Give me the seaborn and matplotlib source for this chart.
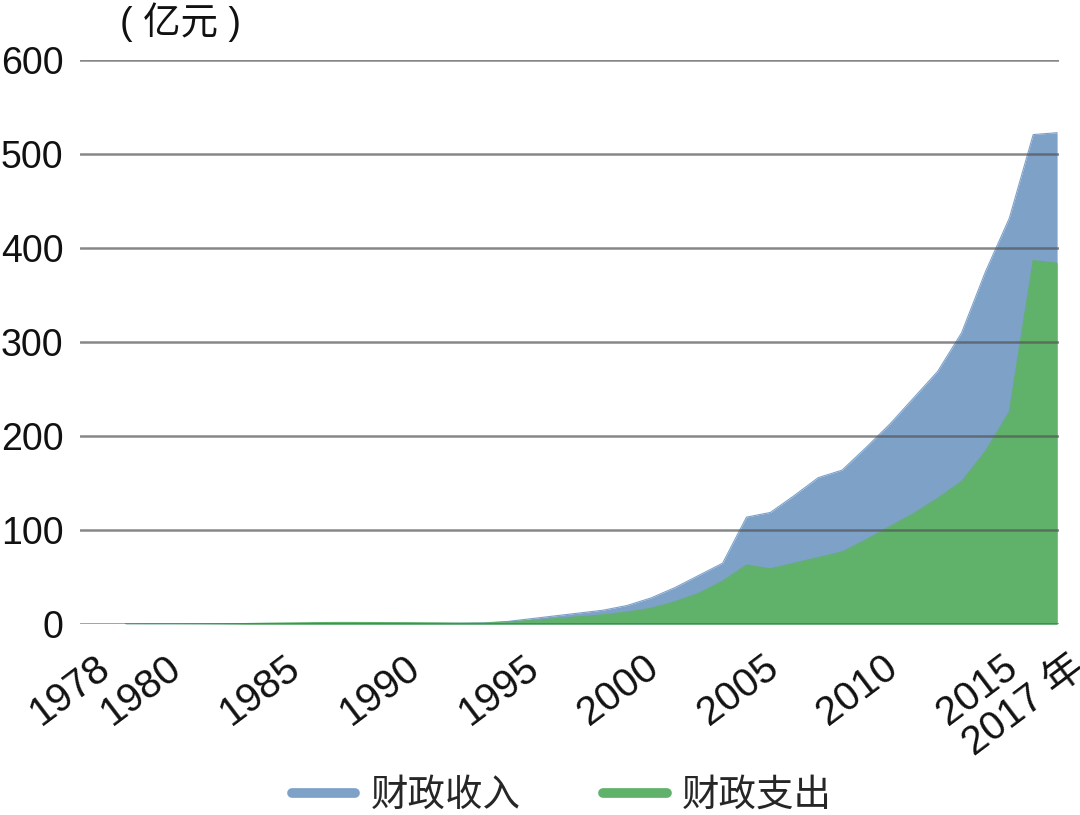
import matplotlib
matplotlib.use("Agg")
import matplotlib.pyplot as plt
import matplotlib.transforms as mtransforms
from matplotlib.lines import Line2D
import pandas as pd
import seaborn as sns

# data (亿元)
years = list(range(1978, 2018))
revenue = [0.3, 0.3, 0.3, 0.3, 0.4, 0.4, 0.5, 0.6, 0.7, 0.8,
           0.8, 0.9, 0.9, 1.0, 1.1, 1.5, 3, 6, 9, 12,
           15, 20, 28, 39, 52, 65, 114, 119, 137, 156,
           164, 188, 213, 241, 269, 310, 375, 432, 521, 523]
expenditure = [0.2, 0.3, 0.3, 0.4, 0.5, 0.8, 1.2, 1.5, 1.8, 2.0,
               1.9, 1.8, 1.7, 1.5, 1.2, 1.3, 2.5, 4, 6, 8,
               10, 13, 17, 24, 33, 46, 63, 59, 65, 71,
               77, 90, 104, 118, 134, 152, 184, 226, 387, 384]
tick_years = [1978, 1980, 1985, 1990, 1995, 2000, 2005, 2010, 2015, 2017]
tick_labels = ["1978", "1980", "1985", "1990", "1995", "2000", "2005",
               "2010", "2015", "2017 年"]
series_names = ["财政收入", "财政支出"]

blue = "#7ea1c8"
green = "#60b16a"

sns.set_style("white")
plt.rcParams["font.family"] = ["Liberation Sans", "Noto Sans CJK SC"]

df = pd.DataFrame({"year": years, "revenue": revenue, "expenditure": expenditure})

fig = plt.figure(figsize=(10.8, 8.15), dpi=100)
ax = fig.add_axes([0.074, 0.234, 0.907, 0.692])

# areas
ax.fill_between(df["year"], 0, df["revenue"], color=blue, lw=0, zorder=1)
ax.fill_between(df["year"], 0, df["expenditure"], color=green, lw=0, zorder=2)
sns.lineplot(data=df, x="year", y="revenue", ax=ax, color=blue, lw=0.8, zorder=1)
sns.lineplot(data=df, x="year", y="expenditure", ax=ax, color=green, lw=0.8, zorder=2)

ax.set_xlim(1976.1, 2017.1)
ax.set_ylim(0, 600)
ax.set_yticks([0, 100, 200, 300, 400, 500, 600])
for v in [0, 100, 200, 300, 400, 500, 600]:
    ax.axhline(v, color="#555555", alpha=0.7, lw=1.8, zorder=5)

for s in ax.spines.values():
    s.set_visible(False)
ax.set_xlabel("")
ax.set_ylabel("")

ax.tick_params(axis="y", length=0, pad=12, labelsize=27, labelcolor="#111111")
ax.set_xticks(tick_years)
ax.set_xticklabels(tick_labels, rotation=37, ha="right", va="top",
                   rotation_mode="anchor", fontsize=29, color="#111111")
ax.tick_params(axis="x", length=0, pad=17)

# shift labels a little; the end labels sit further out like in the reference
shifts = [-31, -8, -8, -8, -8, -8, -8, -8, -8, 12]
for lab, dx in zip(ax.get_xticklabels(), shifts):
    lab.set_transform(lab.get_transform() +
                      mtransforms.ScaledTranslation(dx / 100, 0, fig.dpi_scale_trans))

fig.text(180 / 1080, 1 - 22 / 815, "( 亿元 )", fontsize=27, ha="center", va="center",
         color="#111111")

handles = [Line2D([0], [0], color=blue, lw=7, solid_capstyle="round"),
           Line2D([0], [0], color=green, lw=7, solid_capstyle="round")]
fig.legend(handles, series_names, loc="lower center", bbox_to_anchor=(0.52, -0.04),
           ncol=2, frameon=False, fontsize=27, handlelength=1.7, handletextpad=0.4,
           columnspacing=2.2)

fig.savefig("out.png", dpi=100)
